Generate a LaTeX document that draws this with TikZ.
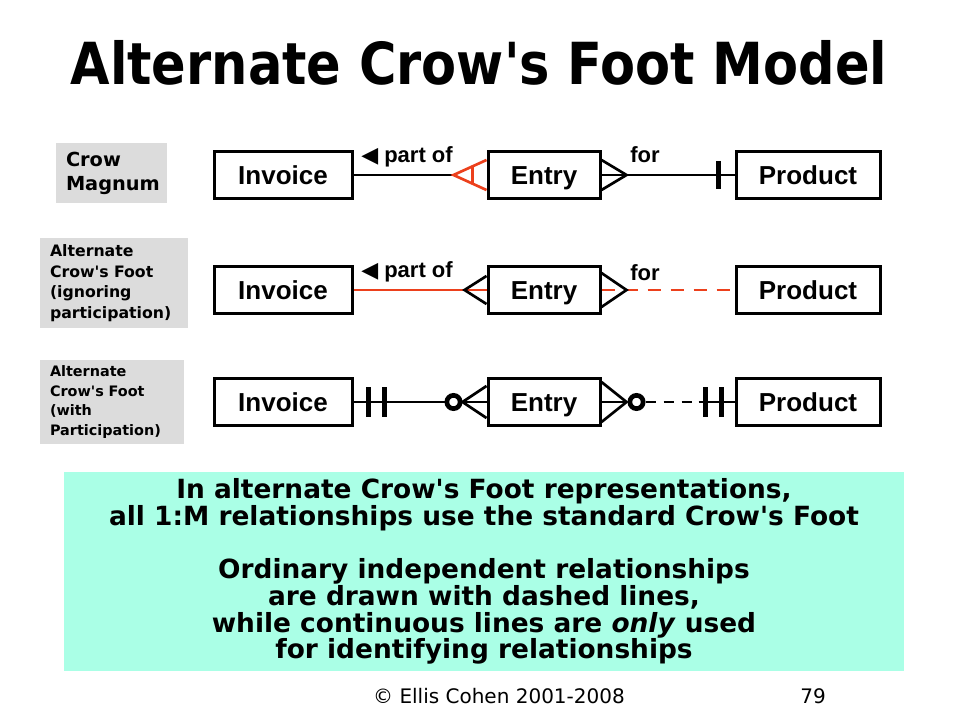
\documentclass[tikz,border=0pt]{standalone}
\usepackage{fontspec}
\setmainfont{DejaVu Sans}
\newfontfamily\plainfont{DejaVu Sans}
\newfontfamily\titlefont{DejaVu Sans}[FakeStretch=0.88]
\newfontfamily\boxfont{Liberation Sans}
\newfontfamily\symfont{DejaVu Sans}
\usetikzlibrary{calc}
\definecolor{relred}{RGB}{236,64,28}
\definecolor{tagback}{RGB}{220,220,220}
\definecolor{notecyan}{RGB}{170,255,230}

\tikzset{
  entity/.style={draw, line width=2.25pt, minimum height=35.25pt, inner sep=0pt,
    text height=13.9pt, text depth=0pt,
    font=\boxfont\bfseries\fontsize{19.5}{22}\selectfont},
  tag/.style={fill=tagback, align=left, inner xsep=7.5pt, inner ysep=0pt},
  relname/.style={anchor=base west, inner sep=0pt,
    font=\boxfont\bfseries\fontsize{16.5}{18}\selectfont},
  rel/.style={line width=2pt},
  foot/.style={line width=2pt},
  bar/.style={line width=3.75pt},
  ring/.style={circle, draw, fill=white, line width=3.5pt, minimum size=10pt, inner sep=0pt}
}

\begin{document}
\begin{tikzpicture}[x=0.75pt, y=-0.75pt]
\useasboundingbox (0,0) rectangle (960,720);

\node[anchor=base, font=\titlefont\bfseries\fontsize{43.5}{48}\selectfont] (title) at (479,85)
  {Alternate Crow's Foot Model};

% row labels
\node[tag, text width=68.25pt, minimum height=45pt,
  font=\plainfont\bfseries\fontsize{14.5}{18}\selectfont] (tagA) at (111.5,173) {Crow\\Magnum};
\node[tag, text width=96pt, minimum height=67.5pt,
  font=\plainfont\bfseries\fontsize{11.8}{15.4}\selectfont] (tagB) at (114,283)
  {Alternate\\Crow's Foot\\(ignoring\\participation)};
\node[tag, text width=93pt, minimum height=63pt,
  font=\plainfont\bfseries\fontsize{10.8}{14.6}\selectfont] (tagC) at (112,402)
  {Alternate\\Crow's Foot\\(with\\Participation)};

% Crow Magnum
\node[entity, minimum width=103.5pt] (inv1) at (283,175) {Invoice};
\node[entity, minimum width=84pt] (ent1) at (544,175) {Entry};
\node[entity, minimum width=108pt] (prod1) at (808,175) {Product};

\coordinate (tip1) at ($(ent1.west)+(-33,0)$);
\draw[rel] (inv1) -- (tip1);
\draw[rel] (ent1) -- (prod1);
\draw[foot, relred] ($(ent1.west)+(0,-15)$) -- (tip1) -- ($(ent1.west)+(0,15)$);
\draw[foot, relred] ($(ent1.west)+(-14,-9)$) -- ($(ent1.west)+(-14,9)$);
\draw[foot] ($(ent1.east)+(0,-15)$) -- ($(ent1.east)+(25,0)$) -- ($(ent1.east)+(0,15)$);
\draw[bar] ($(prod1.west)+(-16,-14)$) -- ($(prod1.west)+(-16,14)$);
\node[relname] (partof1) at (361,163) {{\symfont ◀} part of};
\node[relname] (for1) at (630,163) {for};

% ignoring participation
\node[entity, minimum width=103.5pt] (inv2) at (283,290) {Invoice};
\node[entity, minimum width=84pt] (ent2) at (544,290) {Entry};
\node[entity, minimum width=108pt] (prod2) at (808,290) {Product};

\draw[rel, relred] (inv2) -- (ent2);
\draw[rel, relred, dash pattern=on 9.75pt off 7.5pt] (ent2) -- (prod2);
\draw[foot] ($(ent2.west)+(0,-14)$) -- ($(ent2.west)+(-22,0)$) -- ($(ent2.west)+(0,14)$);
\draw[foot] ($(ent2.east)+(0,-17)$) -- ($(ent2.east)+(25,0)$) -- ($(ent2.east)+(0,17)$);
\node[relname] (partof2) at (361,278) {{\symfont ◀} part of};
\node[relname] (for2) at (630,281) {for};

% with participation
\node[entity, minimum width=103.5pt] (inv3) at (283,402) {Invoice};
\node[entity, minimum width=84pt] (ent3) at (544,402) {Entry};
\node[entity, minimum width=108pt] (prod3) at (808,402) {Product};

\node[ring] (ringA) at ($(ent3.west)+(-33,0)$) {};
\node[ring] (ringB) at ($(ent3.east)+(35,0)$) {};
\coordinate (solid3) at ($(prod3.west)+(-36,0)$);
\draw[rel] (inv3) -- (ringA);
\draw[rel, dash pattern=on 7.5pt off 6pt] (ringB) -- (solid3);
\draw[rel] (solid3) -- (prod3);
\draw[bar] ($(inv3.east)+(14.5,-15)$) -- ($(inv3.east)+(14.5,15)$);
\draw[bar] ($(inv3.east)+(30.5,-15)$) -- ($(inv3.east)+(30.5,15)$);
\draw[foot] ($(ent3.west)+(0,-16)$) -- ($(ent3.west)+(-24,0)$) -- ($(ent3.west)+(0,16)$);
\draw[foot] ($(ent3.west)+(-24,0)$) -- (ent3.west);
\draw[foot] ($(ent3.east)+(0,-20)$) -- ($(ent3.east)+(25,0)$) -- ($(ent3.east)+(0,20)$);
\draw[foot] (ent3.east) -- ($(ent3.east)+(25,0)$);
\draw[bar] ($(prod3.west)+(-29.5,-15)$) -- ($(prod3.west)+(-29.5,15)$);
\draw[bar] ($(prod3.west)+(-13.5,-15)$) -- ($(prod3.west)+(-13.5,15)$);

% note
\node[fill=notecyan, minimum width=630pt, minimum height=149.25pt, align=center,
  font=\plainfont\bfseries\fontsize{19.8}{20}\selectfont] (note) at (484,571.5)
  {In alternate Crow's Foot representations,\\
   all 1:M relationships use the standard Crow's Foot\\[20pt]
   Ordinary independent relationships\\
   are drawn with dashed lines,\\
   while continuous lines are \textit{only} used\\
   for identifying relationships};

\node[anchor=base, font=\fontsize{15}{18}\selectfont] (copy) at (499,703) {© Ellis Cohen 2001-2008};
\node[anchor=base, font=\fontsize{15}{18}\selectfont] (page) at (813,703) {79};
\end{tikzpicture}
\end{document}
